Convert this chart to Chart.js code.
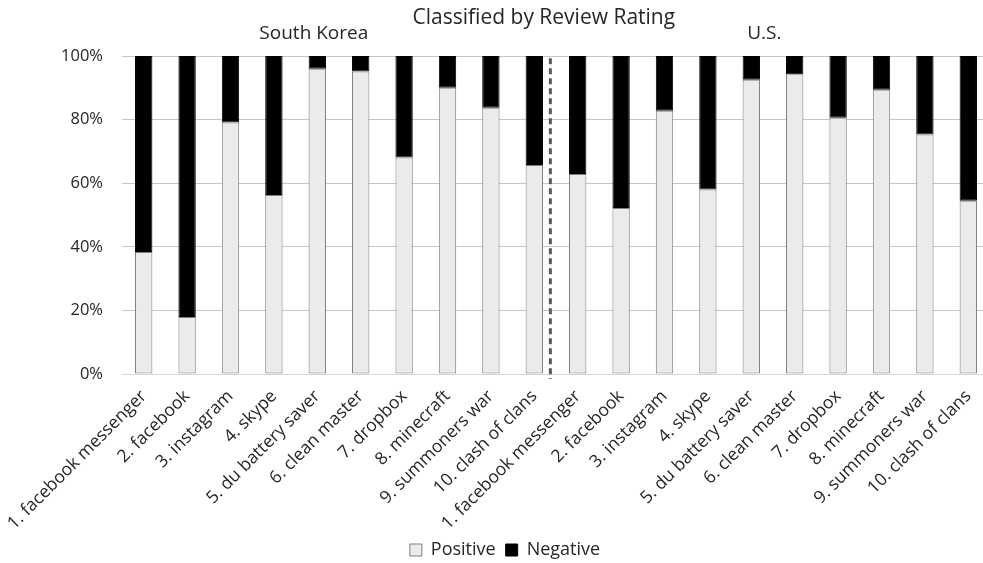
<!DOCTYPE html>
<html>
<head>
<meta charset="utf-8">
<script src="https://cdn.jsdelivr.net/npm/chart.js@4"></script>
<style>
  html, body { margin: 0; padding: 0; background: #fff; overflow: hidden; }
  #wrap { width: 992px; height: 563px; }
</style>
</head>
<body>
<div id="wrap"><canvas id="myChart"></canvas></div>
<script>
// apps, same list for both countries
const apps = ['1. facebook messenger', '2. facebook', '3. instagram', '4. skype',
  '5. du battery saver', '6. clean master', '7. dropbox', '8. minecraft',
  '9. summoners war', '10. clash of clans'];
const labels = apps.concat(apps);

// % of reviews, South Korea then U.S.
const positive = [38.4, 17.9, 79.1, 56.3, 96.0, 95.1, 68.1, 90.0, 83.7, 65.7,
                  62.9, 52.2, 82.8, 58.0, 92.5, 94.3, 80.6, 89.4, 75.3, 54.5];
const negative = [61.6, 82.1, 20.9, 43.7, 4.0, 4.9, 31.9, 10.0, 16.3, 34.3,
                  37.1, 47.8, 17.2, 42.0, 7.5, 5.7, 19.4, 10.6, 24.7, 45.5];
const yTicks = [0, 20, 40, 60, 80, 100];

const FONT = "'Open Sans', 'Noto Sans', sans-serif";
const TXT = '#262626';

// titles + dashed divider between the two countries
const extras = {
  id: 'extras',
  afterDatasetsDraw(chart) {
    const ctx = chart.ctx;
    const x = chart.scales.x, y = chart.scales.y;
    ctx.save();
    // divider
    const dx = x.getPixelForValue(9.37);
    ctx.strokeStyle = '#595959';
    ctx.lineWidth = 3;
    ctx.setLineDash([6, 4]);
    ctx.beginPath();
    ctx.moveTo(dx, y.getPixelForValue(99.3));
    ctx.lineTo(dx, y.bottom + 5);
    ctx.stroke();
    ctx.setLineDash([]);
    // texts
    ctx.fillStyle = TXT;
    ctx.textAlign = 'center';
    ctx.textBaseline = 'middle';
    ctx.font = '21px ' + FONT;
    ctx.fillText('Classified by Review Rating', x.getPixelForValue(9.22), 18);
    ctx.font = '19px ' + FONT;
    ctx.fillText('South Korea', x.getPixelForValue(3.92), 34);
    ctx.fillText('U.S.', x.getPixelForValue(14.3), 34);
    ctx.restore();
  }
};

Chart.defaults.font.family = FONT;
Chart.defaults.color = TXT;

new Chart(document.getElementById('myChart'), {
  type: 'bar',
  data: {
    labels: labels,
    datasets: [
      {
        label: 'Positive',
        data: positive,
        backgroundColor: '#ebebeb',
        borderColor: '#7f7f7f',
        borderWidth: 1,
        borderSkipped: false
      },
      {
        label: 'Negative',
        data: negative,
        backgroundColor: '#000000',
        borderColor: '#000000',
        borderWidth: 1,
        borderSkipped: false
      }
    ]
  },
  options: {
    responsive: true,
    maintainAspectRatio: false,
    animation: false,
    layout: { padding: { top: 56, left: 20, right: 2, bottom: -6 } },
    datasets: { bar: { categoryPercentage: 1, barPercentage: 0.4 } },
    scales: {
      x: {
        stacked: true,
        grid: { display: false },
        border: { color: '#d9d9d9' },
        afterFit: (s) => { s.paddingLeft = 0; s.paddingRight = 0; s.height = 157; },
        ticks: {
          autoSkip: false, minRotation: 45, maxRotation: 45,
          font: { size: 17.5 }, color: TXT, padding: 4
        }
      },
      y: {
        stacked: true,
        min: 0, max: 100,
        afterBuildTicks: (s) => { s.ticks = yTicks.map(v => ({ value: v })); },
        afterFit: (s) => { s.width = 102; },
        grid: { color: '#c6c6c6', drawTicks: false },
        border: { display: false },
        ticks: {
          font: { size: 16.5 }, color: TXT, padding: 19,
          callback: (v) => v + '%'
        }
      }
    },
    plugins: {
      title: { display: false },
      tooltip: { enabled: false },
      legend: {
        position: 'bottom',
        labels: {
          boxWidth: 12, boxHeight: 12, font: { size: 18 }, color: TXT, padding: 10,
          generateLabels: (chart) => chart.data.datasets.map((d, i) => ({
            text: d.label, fillStyle: d.backgroundColor,
            strokeStyle: i === 0 ? '#7f7f7f' : '#000', lineWidth: 1,
            datasetIndex: i, fontColor: TXT
          }))
        }
      }
    }
  },
  plugins: [extras]
});
</script>
</body>
</html>
